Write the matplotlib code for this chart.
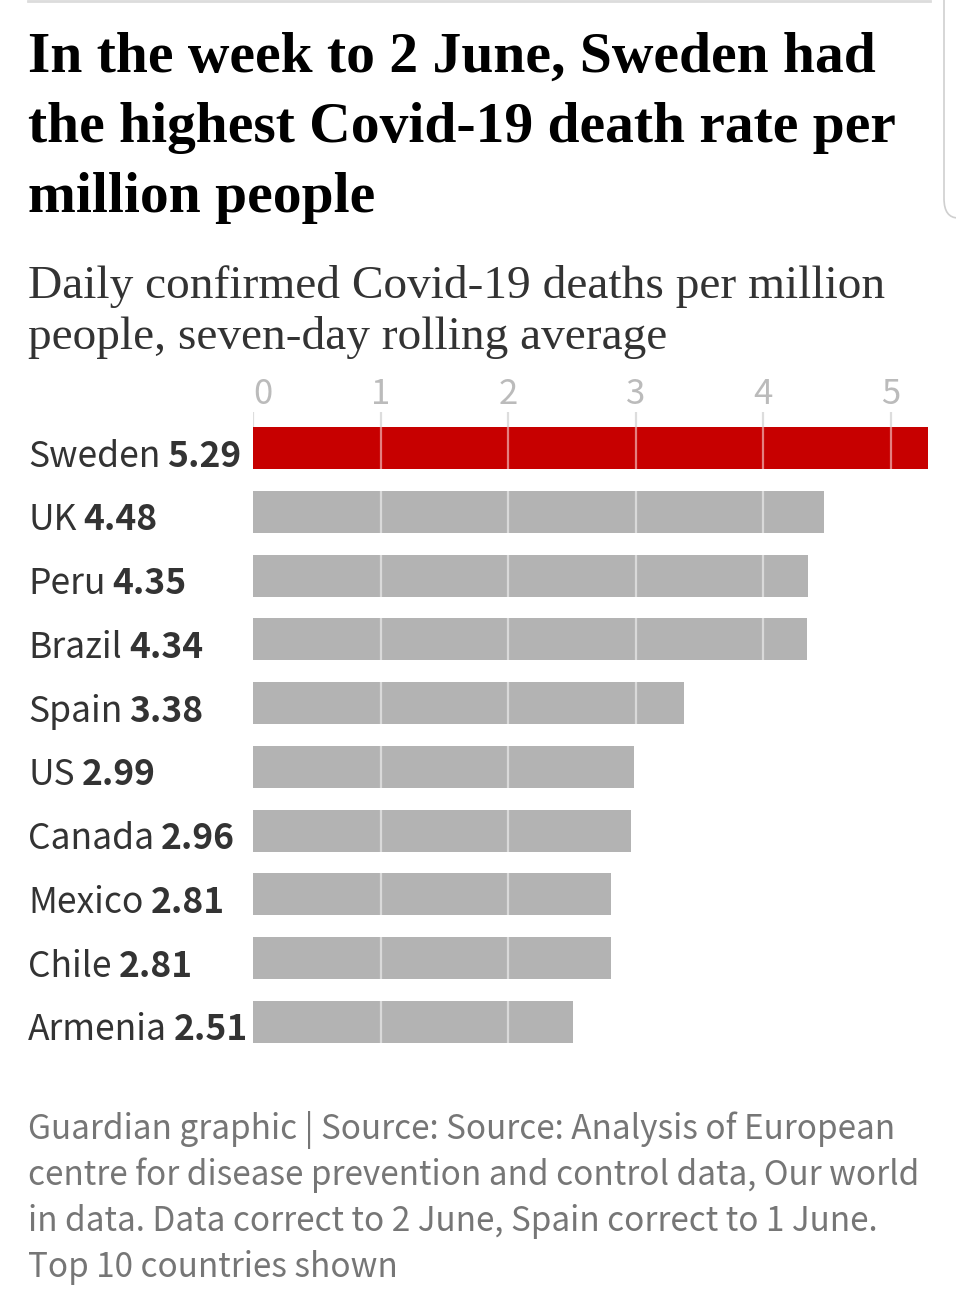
import matplotlib
matplotlib.use("Agg")
import matplotlib.pyplot as plt
from matplotlib.patches import FancyBboxPatch
from matplotlib.lines import Line2D

# ---------------- data ----------------
countries = ["Sweden", "UK", "Peru", "Brazil", "Spain", "US", "Canada", "Mexico", "Chile", "Armenia"]
values = [5.29, 4.48, 4.35, 4.34, 3.38, 2.99, 2.96, 2.81, 2.81, 2.51]
highlight = "Sweden"
ticks = [0, 1, 2, 3, 4, 5]
tick_labels = ["0", "1", "2", "3", "4", "5"]

title_lines = ["In the week to 2 June, Sweden had",
               "the highest Covid-19 death rate per",
               "million people"]
subtitle_lines = ["Daily confirmed Covid-19 deaths per million",
                  "people, seven-day rolling average"]
footer_lines = ["Guardian graphic | Source: Source: Analysis of European",
                "centre for disease prevention and control data, Our world",
                "in data. Data correct to 2 June, Spain correct to 1 June.",
                "Top 10 countries shown"]

# ---------------- layout ----------------
W, H = 956, 1300
fig = plt.figure(figsize=(W / 100, H / 100), dpi=100)
fig.patch.set_facecolor("white")
renderer = fig.canvas.get_renderer()

SANS = ["Noto Sans CJK KR", "DejaVu Sans"]
SERIF = ["Liberation Serif", "DejaVu Serif"]


def fit_size(s, target, size, **kw):
    t = fig.text(0, 0, s, fontsize=size, **kw)
    w = t.get_window_extent(renderer).width
    t.remove()
    return size * target / w


def block(lines, x, baselines, size, **kw):
    for s, y in zip(lines, baselines):
        fig.text(x / W, 1 - y / H, s, fontsize=size, ha="left", va="baseline", **kw)


# top rule and UI edge
fig.add_artist(Line2D([28 / W, 930 / W], [1 - 1 / H, 1 - 1 / H], color="#dcdcdc", lw=2))
fig.add_artist(FancyBboxPatch((944 / W, 1 - 218 / H), 80 / W, 300 / H,
                              boxstyle="round,pad=0,rounding_size=0.015",
                              transform=fig.transFigure, fc="none", ec="#cfcfcf", lw=1.2))

# title
ts = fit_size(title_lines[1], 867, 40, family=SERIF, weight="bold")
block(title_lines, 28, [72, 142, 212], ts, family=SERIF, weight="bold", color="#000000")

# subtitle
ss = fit_size(subtitle_lines[0], 856, 30, family=SERIF)
block(subtitle_lines, 28, [298, 349], ss, family=SERIF, color="#333333")

# footer
fs = fit_size(footer_lines[0], 868, 24, family=SANS)
block(footer_lines, 28, [1139, 1185, 1231, 1277], fs, family=SANS, color="#767676")

# axes
ax = fig.add_axes([253 / W, 1 - 1043 / H, (929 - 253) / W, (1043 - 412) / H])
n = len(countries)
ypos = list(range(n))
bar_h = 0.66
colors = ["#c70000" if c == highlight else "#b3b3b3" for c in countries]
ax.barh(ypos, values, height=bar_h, color=colors, zorder=2)
ax.set_xlim(0, 5.30)
ax.set_ylim(n - 1 + bar_h / 2, -0.565)

# grid segments inside bars and tick marks above
for i, v in enumerate(values):
    xs = [t for t in ticks if 0 < t < v]
    ax.vlines(xs, i - bar_h / 2, i + bar_h / 2, color="white", alpha=0.5, lw=1.6, zorder=3)
ax.vlines(ticks, -0.565, -bar_h / 2, color="#dddddd", lw=1.6, zorder=1)

ax.xaxis.tick_top()
ax.set_xticks(ticks)
ax.set_xticklabels(tick_labels, fontsize=25, color="#bbbbbb", family=SANS, fontweight="light")
ax.get_xticklabels()[0].set_ha("left")
ax.tick_params(axis="x", length=0, pad=0)
ax.set_yticks([])
for sp in ax.spines.values():
    sp.set_visible(False)
ax.patch.set_alpha(0)

# country labels: name regular + value bold
lab_size = 25.5
for i, (c, v) in enumerate(zip(countries, values)):
    y = i + 0.29
    yf = fig.transFigure.inverted().transform(ax.transData.transform((0, y)))[1]
    t = fig.text(28 / W, yf, c, fontsize=lab_size, family=SANS, color="#333333",
                 ha="left", va="baseline")
    x1 = t.get_window_extent(renderer).x1
    fig.text((x1 + 7) / W, yf, f"{v:.2f}", fontsize=lab_size, family=SANS,
             weight="bold", color="#333333", ha="left", va="baseline")

fig.savefig("out.png", dpi=100, facecolor="white")
